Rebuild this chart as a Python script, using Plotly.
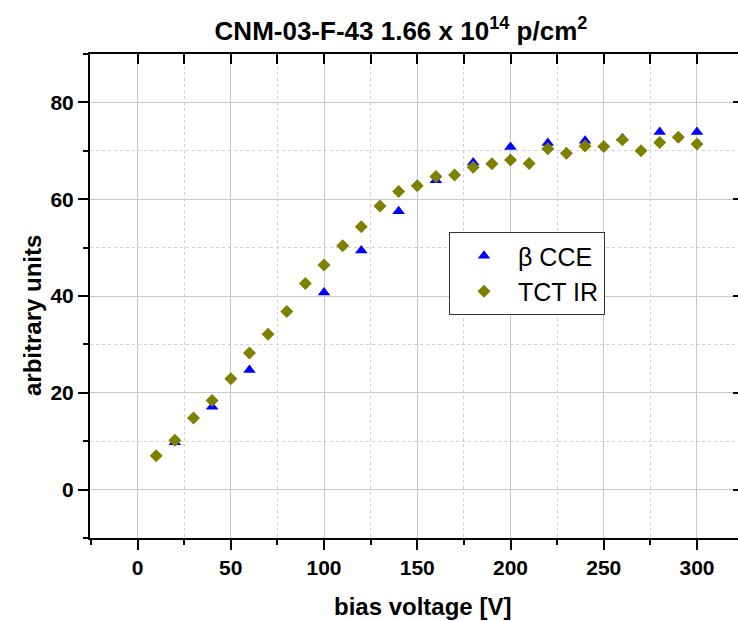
import plotly.graph_objects as go

# Data
tct_v = [10, 20, 30, 40, 50, 60, 70, 80, 90, 100, 110, 120, 130, 140, 150, 160, 170, 180, 190, 200,
         210, 220, 230, 240, 250, 260, 270, 280, 290, 300]
tct_val = [7.0, 10.2, 14.8, 18.4, 22.9, 28.2, 32.1, 36.8, 42.6, 46.4, 50.4, 54.3, 58.6, 61.6, 62.8,
           64.7, 65.0, 66.6, 67.3, 68.1, 67.4, 70.4, 69.5, 71.0, 70.9, 72.3, 70.0, 71.7, 72.8, 71.4]
cce_v = [20, 40, 60, 100, 120, 140, 160, 180, 200, 220, 240, 260, 280, 300]
cce_val = [9.8, 17.1, 24.7, 40.7, 49.4, 57.5, 63.9, 67.6, 70.8, 71.6, 72.1, 72.6, 73.9, 73.9]

title_text = "CNM-03-F-43 1.66 x 10<sup>14</sup> p/cm<sup>2</sup>"
x_title = "bias voltage [V]"
y_title = "arbitrary units"

xr = [-25.5, 322]
yr = [-10, 90]
FONT = "Liberation Sans, Arial, sans-serif"

fig = go.Figure()
fig.add_trace(go.Scatter(x=cce_v, y=cce_val, mode="markers", name="\u03b2 CCE",
                         marker=dict(symbol="triangle-up", size=11, color="#0000ff")))
fig.add_trace(go.Scatter(x=tct_v, y=tct_val, mode="markers", name="TCT IR",
                         marker=dict(symbol="diamond", size=10, color="#808000")))
# invisible trace to activate overlay axes
fig.add_trace(go.Scatter(x=[None], y=[None], xaxis="x2", yaxis="y2", showlegend=False))

fig.update_layout(
    width=738, height=621,
    margin=dict(l=90, r=0, t=54, b=83),
    paper_bgcolor="white", plot_bgcolor="white",
    font=dict(family=FONT, color="black"),
    title=dict(text="<b>" + title_text + "</b>", x=401/738, xanchor="center",
               y=1 - 31/621, yanchor="middle", font=dict(size=26, family=FONT)),
    showlegend=True,
    legend=dict(x=(449-90)/648, y=(538-232)/484, xanchor="left", yanchor="top",
                bgcolor="white", bordercolor="#333333", borderwidth=1,
                font=dict(size=25, family=FONT), itemwidth=58,
                tracegroupgap=0),
    xaxis=dict(range=xr, tickmode="linear", tick0=0, dtick=50,
               showline=True, linewidth=2, linecolor="black",
               ticks="outside", ticklen=10, tickwidth=2, tickcolor="black",
               tickfont=dict(size=21, family=FONT), tickprefix="<b>", ticksuffix="</b>",
               showgrid=True, gridcolor="#c8c8c8", gridwidth=1, zeroline=False,
               minor=dict(tick0=25, dtick=50, ticks="outside", ticklen=5, tickwidth=2,
                          tickcolor="black", showgrid=True, gridcolor="#d0d0d0",
                          griddash="dot", gridwidth=1)),
    yaxis=dict(range=yr, tickmode="linear", tick0=0, dtick=20,
               showline=True, linewidth=2, linecolor="black",
               ticks="outside", ticklen=10, tickwidth=2, tickcolor="black",
               tickfont=dict(size=21, family=FONT), tickprefix="<b>", ticksuffix="</b>",
               showgrid=True, gridcolor="#c8c8c8", gridwidth=1, zeroline=False,
               minor=dict(tick0=10, dtick=20, ticks="outside", ticklen=5, tickwidth=2,
                          tickcolor="black", showgrid=True, gridcolor="#d0d0d0",
                          griddash="dot", gridwidth=1)),
    xaxis2=dict(range=xr, overlaying="x", side="top", tickmode="linear", tick0=0, dtick=25,
                showline=True, linewidth=2, linecolor="black",
                ticks="inside", ticklen=10, tickwidth=2, tickcolor="black",
                showticklabels=False, showgrid=False, zeroline=False),
    yaxis2=dict(range=yr, overlaying="y", side="right", tickmode="linear", tick0=0, dtick=20,
                showline=False, ticks="inside", ticklen=5, tickwidth=2, tickcolor="black",
                showticklabels=False, showgrid=False, zeroline=False),
    annotations=[
        dict(text="<b>" + x_title + "</b>", xref="paper", yref="paper",
             x=(423-90)/648, y=-(606-538)/484, xanchor="center", yanchor="middle",
             showarrow=False, font=dict(size=24, family=FONT)),
        dict(text="<b>" + y_title + "</b>", xref="paper", yref="paper",
             x=-(90-32)/648, y=(538-316)/484, xanchor="center", yanchor="middle",
             textangle=-90, showarrow=False, font=dict(size=24, family=FONT)),
    ],
)

fig.write_html("out.html")
